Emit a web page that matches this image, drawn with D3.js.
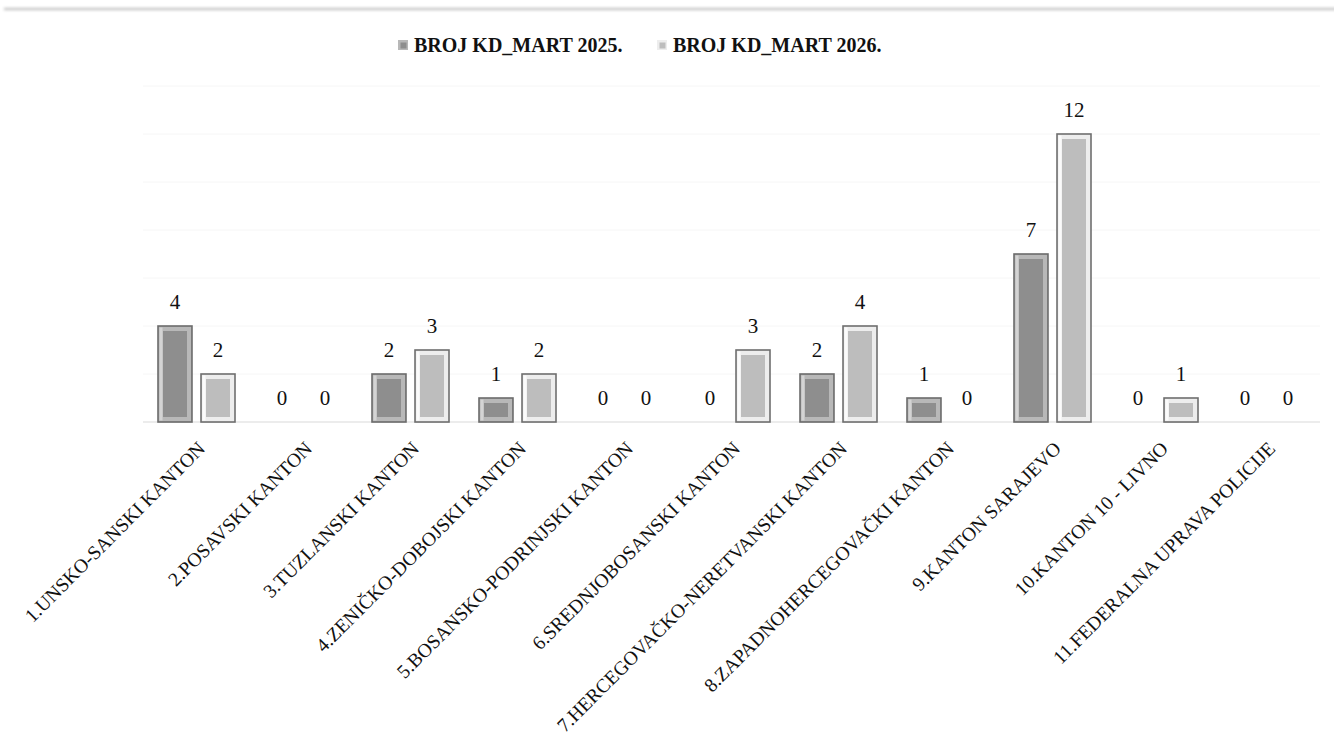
<!DOCTYPE html>
<html>
<head>
<meta charset="utf-8">
<script src="https://cdn.jsdelivr.net/npm/d3@7"></script>
<style>
  body { margin: 0; background: #fff; }
  svg { display: block; }
</style>
</head>
<body>
<div id="chart"></div>
<script>
var categories = [
    '1.UNSKO-SANSKI KANTON',
    '2.POSAVSKI KANTON',
    '3.TUZLANSKI KANTON',
    '4.ZENIČKO-DOBOJSKI KANTON',
    '5.BOSANSKO-PODRINJSKI KANTON',
    '6.SREDNJOBOSANSKI KANTON',
    '7.HERCEGOVAČKO-NERETVANSKI KANTON',
    '8.ZAPADNOHERCEGOVAČKI KANTON',
    '9.KANTON SARAJEVO',
    '10.KANTON 10 - LIVNO',
    '11.FEDERALNA UPRAVA POLICIJE'
];
var seriesNames = ['BROJ KD_MART 2025.', 'BROJ KD_MART 2026.'];
var values2025 = [4, 0, 2, 1, 0, 0, 2, 1, 7, 0, 0];
var values2026 = [2, 0, 3, 2, 0, 3, 4, 0, 12, 1, 0];
var gridTicks = [0, 2, 4, 6, 8, 10, 12, 14];

var width = 1334, height = 753;
var margin = { top: 86, left: 143, right: 14, bottom: 331 };
var serif = "'Liberation Serif', 'DejaVu Serif', serif";

var svg = d3.select('#chart').append('svg')
    .attr('width', width)
    .attr('height', height);

var defs = svg.append('defs');
defs.append('filter').attr('id', 'blur')
    .attr('x', '-5%').attr('y', '-200%').attr('width', '110%').attr('height', '500%')
    .append('feGaussianBlur').attr('stdDeviation', 1.6);

// top shadow strip
svg.append('rect')
    .attr('x', 4).attr('y', 8).attr('width', width).attr('height', 2)
    .attr('fill', '#b8b8b8')
    .attr('filter', 'url(#blur)');

var x0 = d3.scaleBand().domain(categories)
    .range([margin.left, width - margin.right]);
var x1 = d3.scaleBand().domain([0, 1])
    .range([15, 92]).paddingInner(0.21);
var y = d3.scaleLinear().domain([0, 14])
    .range([height - margin.bottom, margin.top]);

// gridlines
svg.append('g').selectAll('line')
    .data(gridTicks)
    .join('line')
    .attr('x1', margin.left).attr('x2', width - margin.right)
    .attr('y1', function (d) { return y(d); })
    .attr('y2', function (d) { return y(d); })
    .attr('stroke', function (d) { return d === 0 ? '#e6e6e6' : '#f6f6f6'; })
    .attr('stroke-width', function (d) { return d === 0 ? 1.5 : 1; });

var styles = [
    { border: '#6b6b6b', frame: '#b8b8b8', light: '#d4d4d4', fill: '#8e8e8e' },
    { border: '#6e6e6e', frame: '#ededed', light: '#fbfbfb', fill: '#bdbdbd' }
];

var rows = categories.map(function (c, i) {
    return { cat: c, vals: [values2025[i], values2026[i]] };
});

var groups = svg.append('g').selectAll('g')
    .data(rows)
    .join('g')
    .attr('transform', function (d) { return 'translate(' + x0(d.cat) + ',0)'; });

var bars = groups.selectAll('g.bar')
    .data(function (d) { return d.vals.map(function (v, s) { return { v: v, s: s }; }); })
    .join('g').attr('class', 'bar');

var bw = x1.bandwidth();
var inset = 5;

bars.filter(function (d) { return d.v > 0; }).each(function (d) {
    var g = d3.select(this), st = styles[d.s];
    var bx = x1(d.s), top = y(d.v), h = y(0) - y(d.v);
    g.append('rect')
        .attr('x', bx).attr('y', top).attr('width', bw).attr('height', h)
        .attr('fill', st.frame)
        .attr('stroke', st.border).attr('stroke-width', 1.6);
    // light bevel on left/top
    g.append('rect')
        .attr('x', bx + 1.5).attr('y', top + 1.5).attr('width', 3).attr('height', h - 3)
        .attr('fill', st.light);
    g.append('rect')
        .attr('x', bx + inset).attr('y', top + inset)
        .attr('width', bw - inset * 2).attr('height', Math.max(h - inset * 2, 0))
        .attr('fill', st.fill);
});

// value labels
bars.append('text')
    .attr('x', function (d) { return x1(d.s) + bw / 2; })
    .attr('y', function (d) { return y(d.v) - 17; })
    .attr('text-anchor', 'middle')
    .style('font-family', serif)
    .style('font-size', '21px')
    .attr('fill', '#111')
    .text(function (d) { return d.v; });

// category labels
svg.append('g').selectAll('text')
    .data(categories)
    .join('text')
    .attr('transform', function (d) {
        return 'translate(' + (x0(d) + x0.bandwidth() / 2 + 5) + ',' + 445 + ') rotate(-45)';
    })
    .attr('text-anchor', 'end')
    .attr('dy', '0.35em')
    .style('font-family', serif)
    .style('font-size', '19.5px')
    .attr('fill', '#111')
    .text(function (d) { return d; });

// legend
var legendX = [398, 657];
var legend = svg.append('g').selectAll('g')
    .data(seriesNames)
    .join('g')
    .attr('transform', function (d, i) { return 'translate(' + legendX[i] + ',40)'; });

legend.append('rect')
    .attr('width', 10).attr('height', 10)
    .attr('fill', function (d, i) { return styles[i].frame; });
legend.append('rect')
    .attr('x', 2.5).attr('y', 2.5).attr('width', 6).attr('height', 6)
    .attr('fill', function (d, i) { return styles[i].fill; });
legend.append('text')
    .attr('x', 16).attr('y', 12)
    .style('font-family', serif)
    .style('font-size', '20px')
    .style('font-weight', 'bold')
    .attr('fill', '#111')
    .text(function (d) { return d; });
</script>
</body>
</html>
